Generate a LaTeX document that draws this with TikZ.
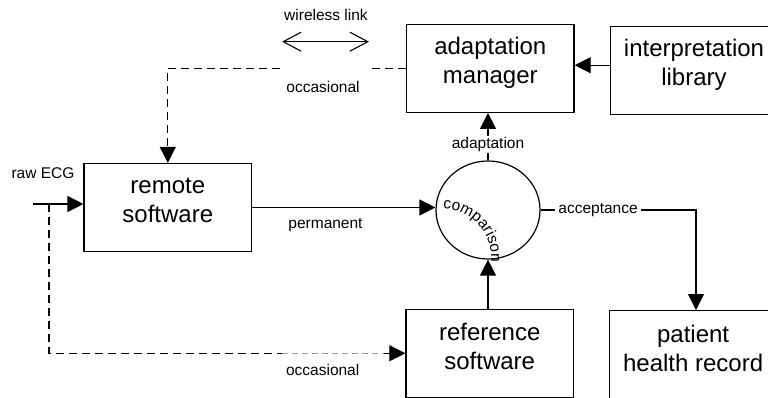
\documentclass[tikz,border=0pt]{standalone}
\usepackage{fontspec}
\setmainfont{Liberation Sans}
\usetikzlibrary{arrows.meta,decorations.text,shapes.geometric}
\newcommand\boxfont{\fontsize{24}{29}\selectfont}
\newcommand\lblfont{\fontsize{15.5}{18}\selectfont}

\begin{document}
\begin{tikzpicture}[x=1pt,y=1pt, line width=1.2pt,
  block/.style={draw, rectangle, minimum width=167.5pt, minimum height=88pt, inner sep=0pt},
  blocktext/.style={anchor=base, align=center, font=\boxfont, inner sep=0pt},
  lbl/.style={font=\lblfont, inner sep=1.5pt},
  masklbl/.style={lbl, fill=white, inner xsep=3pt},
  flow/.style={-{Triangle[length=16pt,width=16pt]}},
  occ/.style={dash pattern=on 8pt off 5pt},
  faint/.style={draw=black!40, line width=0.8pt, dash pattern=on 6pt off 4pt},
  barb/.style={{Straight Barb[length=18pt,width=19pt]}-{Straight Barb[length=18pt,width=19pt]}},
]
\useasboundingbox (0,0) rectangle (768,398);
\clip (0,0) rectangle (768,398);

% blocks
\node[block] (am)  at (490.3,329.7) {};
\node[block] (il)  at (694,327.8) {};
\node[block] (rs)  at (167.8,190.5) {};
\node[block] (ref) at (489.7,44.7) {};
\node[block] (phr) at (693.1,43.3) {};
\node[draw, ellipse, minimum width=104pt, minimum height=98pt, inner sep=0pt] (cmp) at (488,188) {};

% block captions (the base anchor sits on the last line)
\node[blocktext] (am-t)  at ([yshift=-60pt]am.north)  {adaptation\\manager};
\node[blocktext] (il-t)  at ([yshift=-60pt]il.north)  {interpretation\\library};
\node[blocktext] (rs-t)  at ([yshift=-60pt]rs.north)  {remote\\software};
\node[blocktext] (ref-t) at ([yshift=-61pt]ref.north) {reference\\software};
\node[blocktext] (phr-t) at ([yshift=-61pt]phr.north) {patient\\health record};

% comparison text bent along an arc inside the ellipse
\path[decorate, decoration={text along path, text align=left,
      text={|\lblfont|comparison}}]
  (443,189) arc[start angle=90, end angle=-8, radius=48];

% free labels
\node[lbl] (raw)  at (43,225)    {raw ECG};
\node[lbl] (wl)   at (326,383)   {wireless link};
\node[lbl] (occ1) at (323,311)   {occasional};
\node[lbl] (perm) at (325.5,173) {permanent};
\node[lbl] (occ2) at (322.7,28)  {occasional};

% helper points
\coordinate (rawin) at (33,194);
\coordinate (split) at (49,194);
\coordinate (dl)    at (49,44.7);
\coordinate (fadeA) at (282,44.7);
\coordinate (fadeB) at (384,44.7);
\coordinate (gapR)  at (368,329.7);
\coordinate (gapL)  at (280,329.7);
\coordinate (wlA)   at (282,356.3);
\coordinate (wlB)   at (369,356.3);
\coordinate (accT)  at (696,188);

% raw input
\draw[flow] (rawin) -- (rawin -| rs.west);

% occasional link to the reference software
\draw[occ] (split) -- (dl) -- (fadeA);
\draw[faint] (fadeA) -- (fadeB);
\draw[occ, flow] (fadeB) -- (ref.west);

% occasional wireless link from the adaptation manager
\draw[occ] (am.west) -- (gapR);
\draw[occ, flow] (gapL) -| (rs.north);
\draw[barb, line width=1.1pt] (wlA) -- (wlB);

% library feeds the manager
\draw[flow] ([yshift=5pt]il.west) -- ([yshift=5pt]il.west -| am.east);

% comparison inputs and outputs
\draw[flow] (rs.east) -- (rs.east -| cmp.west);
\draw[flow] (cmp.south |- ref.north) -- (cmp.south);
\draw[flow] (cmp.north) -- node[masklbl, pos=0.33] (adl) {adaptation} (cmp.north |- am.south);
\draw[flow] (cmp.east) -- node[masklbl, pos=0.37] (acc) {acceptance} (accT) -- (accT |- phr.north);
\end{tikzpicture}
\end{document}
